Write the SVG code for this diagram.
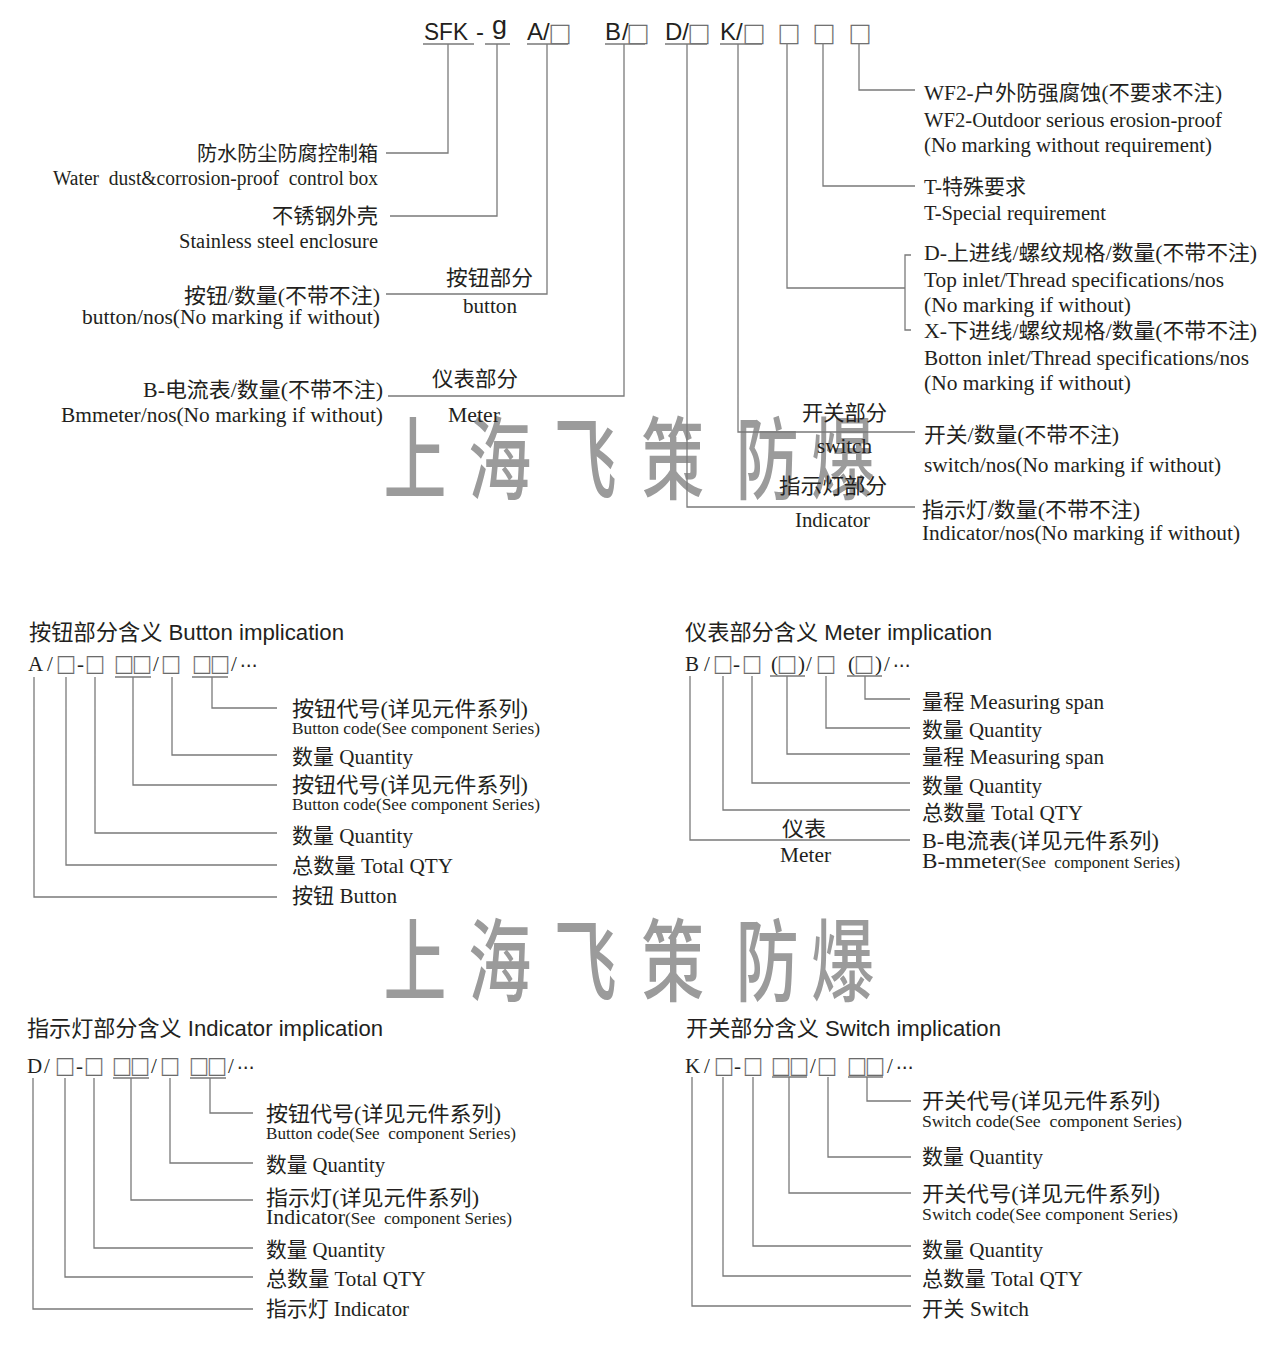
<svg xmlns="http://www.w3.org/2000/svg" width="1278" height="1350" viewBox="0 0 1278 1350">
<style>
.ln{stroke:#7a7a7a;stroke-width:1.3;fill:none}
.t{font-family:"Liberation Serif","Noto Sans CJK SC",serif;fill:#231f20}
.s{font-family:"Liberation Sans","Noto Sans CJK SC",sans-serif;fill:#231f20}
.bx{font-family:"Noto Sans CJK SC",sans-serif;fill:#666;stroke:#666;stroke-width:0.3;text-anchor:middle}
.el{font-family:"DejaVu Sans",sans-serif;fill:#231f20;stroke:#231f20;stroke-width:0.2}
.wm{font-family:"Noto Sans CJK SC",sans-serif;font-weight:500;fill:#9b9b9b;text-anchor:middle}
.pre{white-space:pre}
.e{text-anchor:end}
</style>
<rect width="1278" height="1350" fill="#fff"/>
<g id="watermarks">
<text class="wm" font-size="90" transform="scale(0.7,1)" x="593 714 836 961 1096 1204" y="492">上海飞策防爆</text>
<text class="wm" font-size="90" transform="scale(0.7,1)" x="593 714 836 961 1096 1204" y="994">上海飞策防爆</text>
</g>
<g id="model-code">
<text class="s" font-size="24" x="424" y="40" textLength="44" lengthAdjust="spacingAndGlyphs">SFK</text>
<text class="s" font-size="24" x="476" y="40">-</text>
<text class="s" font-size="26" x="492" y="34" textLength="15" lengthAdjust="spacingAndGlyphs">g</text>
<text class="s" font-size="24" x="527" y="40">A/</text>
<text class="s" font-size="24" x="605" y="40">B</text><text class="s" font-size="24" x="622" y="40">/</text>
<text class="s" font-size="24" x="665" y="40">D/</text>
<text class="s" font-size="24" x="720" y="40">K/</text>
<text class="bx" font-size="23" y="43"><tspan x="560">□</tspan><tspan x="638">□</tspan><tspan x="699">□</tspan><tspan x="754">□</tspan><tspan x="789">□</tspan><tspan x="824">□</tspan><tspan x="860">□</tspan></text>
</g>
<g id="connectors">
<path class="ln" d="M423,44H474M485,44H510M527,44H568M605,44H645M665,44H707M720,44H762"/>
<path class="ln" d="M448,44V153H386M497,44V216H390M547,44V294H386M624,44V396H388M687,44V507H915M738,44V432H915M787,43V288H905M911,255H905V330H911M823,43V186H915M859,43V90H915"/>
<path class="ln" d="M115,677H151M192,677H228M34,677V897H277M66,677V865H277M95,677V833H277M133,677V785H277M172,677V755H277M212,677V708H277"/>
<path class="ln" d="M770,676H805M847,676H882M690,676V840H910M723,676V810H910M752,676V783H910M787,676V754H910M826,676V728H910M865,676V699H910"/>
<path class="ln" d="M113,1078H149M190,1078H226M33,1078V1309H253M65,1078V1277H253M94,1078V1248H253M131,1078V1200H253M170,1078V1163H253M210,1078V1113H253"/>
<path class="ln" d="M772,1077H807M848,1077H883M692,1077V1306H911M723,1077V1276H911M753,1077V1246H911M789,1077V1193H911M828,1077V1157H911M867,1077V1101H911"/>
</g>
<g id="node-box">
<text class="t e" font-size="20" x="378" y="161" textLength="181" lengthAdjust="spacingAndGlyphs">防水防尘防腐控制箱</text>
<text class="t e pre" font-size="20" x="378" y="185" textLength="325" lengthAdjust="spacingAndGlyphs">Water  dust&amp;corrosion-proof  control box</text>
</g>
<g id="node-enclosure">
<text class="t e" font-size="21" x="378" y="223" textLength="106" lengthAdjust="spacingAndGlyphs">不锈钢外壳</text>
<text class="t e" font-size="20" x="378" y="248" textLength="199" lengthAdjust="spacingAndGlyphs">Stainless steel enclosure</text>
</g>
<g id="node-button">
<text class="t e" font-size="21" x="380" y="303" textLength="196" lengthAdjust="spacingAndGlyphs">按钮/数量(不带不注)</text>
<text class="t e" font-size="20" x="380" y="324" textLength="298" lengthAdjust="spacingAndGlyphs">button/nos(No marking if without)</text>
<text class="t" font-size="21" x="446" y="285" textLength="87" lengthAdjust="spacingAndGlyphs">按钮部分</text>
<text class="t" font-size="20" x="463" y="313" textLength="54" lengthAdjust="spacingAndGlyphs">button</text>
</g>
<g id="node-meter">
<text class="t e" font-size="21" x="383" y="397" textLength="240" lengthAdjust="spacingAndGlyphs">B-电流表/数量(不带不注)</text>
<text class="t e" font-size="20" x="383" y="422" textLength="322" lengthAdjust="spacingAndGlyphs">Bmmeter/nos(No marking if without)</text>
<text class="t" font-size="21" x="432" y="386" textLength="86" lengthAdjust="spacingAndGlyphs">仪表部分</text>
<text class="t" font-size="20" x="448" y="422" textLength="52" lengthAdjust="spacingAndGlyphs">Meter</text>
</g>
<g id="node-wf2">
<text class="t" font-size="21" x="924" y="100" textLength="298" lengthAdjust="spacingAndGlyphs">WF2-户外防强腐蚀(不要求不注)</text>
<text class="t" font-size="20" x="924" y="127" textLength="298" lengthAdjust="spacingAndGlyphs">WF2-Outdoor serious erosion-proof</text>
<text class="t" font-size="20" x="924" y="152" textLength="288" lengthAdjust="spacingAndGlyphs">(No marking without requirement)</text>
</g>
<g id="node-special">
<text class="t" font-size="21" x="924" y="194" textLength="102" lengthAdjust="spacingAndGlyphs">T-特殊要求</text>
<text class="t" font-size="20" x="924" y="220" textLength="182" lengthAdjust="spacingAndGlyphs">T-Special requirement</text>
</g>
<g id="node-inlet">
<text class="t" font-size="21" x="924" y="260" textLength="333" lengthAdjust="spacingAndGlyphs">D-上进线/螺纹规格/数量(不带不注)</text>
<text class="t" font-size="20" x="924" y="287" textLength="300" lengthAdjust="spacingAndGlyphs">Top inlet/Thread specifications/nos</text>
<text class="t" font-size="20" x="924" y="312" textLength="207" lengthAdjust="spacingAndGlyphs">(No marking if without)</text>
<text class="t" font-size="21" x="924" y="338" textLength="333" lengthAdjust="spacingAndGlyphs">X-下进线/螺纹规格/数量(不带不注)</text>
<text class="t" font-size="20" x="924" y="365" textLength="325" lengthAdjust="spacingAndGlyphs">Botton inlet/Thread specifications/nos</text>
<text class="t" font-size="20" x="924" y="390" textLength="207" lengthAdjust="spacingAndGlyphs">(No marking if without)</text>
</g>
<g id="node-switch">
<text class="t" font-size="21" x="802" y="420" textLength="85" lengthAdjust="spacingAndGlyphs">开关部分</text>
<text class="t" font-size="20" x="817" y="453" textLength="55" lengthAdjust="spacingAndGlyphs">switch</text>
<text class="t" font-size="21" x="924" y="442" textLength="195" lengthAdjust="spacingAndGlyphs">开关/数量(不带不注)</text>
<text class="t" font-size="20" x="924" y="472" textLength="297" lengthAdjust="spacingAndGlyphs">switch/nos(No marking if without)</text>
</g>
<g id="node-indicator">
<text class="t" font-size="21" x="779" y="493" textLength="108" lengthAdjust="spacingAndGlyphs">指示灯部分</text>
<text class="t" font-size="20" x="795" y="527" textLength="75" lengthAdjust="spacingAndGlyphs">Indicator</text>
<text class="t" font-size="21" x="922" y="517" textLength="218" lengthAdjust="spacingAndGlyphs">指示灯/数量(不带不注)</text>
<text class="t" font-size="20" x="922" y="540" textLength="318" lengthAdjust="spacingAndGlyphs">Indicator/nos(No marking if without)</text>
</g>
<g id="button-implication">
<text class="s" font-size="22" x="29" y="640" textLength="315" lengthAdjust="spacingAndGlyphs">按钮部分含义 Button implication</text>
<text class="t" font-size="21" y="671"><tspan x="28">A</tspan><tspan x="47">/</tspan><tspan x="77">-</tspan><tspan x="153">/</tspan><tspan x="231">/</tspan></text>
<text class="el" font-size="17" x="240" y="671">⋯</text>
<text class="bx" font-size="20" y="673"><tspan x="66">□</tspan><tspan x="95">□</tspan><tspan x="124">□</tspan><tspan x="142">□</tspan><tspan x="171">□</tspan><tspan x="202">□</tspan><tspan x="220">□</tspan></text>
<text class="t" font-size="21" x="292" y="716" textLength="236" lengthAdjust="spacingAndGlyphs">按钮代号(详见元件系列)</text>
<text class="t" font-size="17" x="292" y="734" textLength="248" lengthAdjust="spacingAndGlyphs">Button code(See component Series)</text>
<text class="t" font-size="21" x="292" y="764" textLength="121" lengthAdjust="spacingAndGlyphs">数量 Quantity</text>
<text class="t" font-size="21" x="292" y="792" textLength="236" lengthAdjust="spacingAndGlyphs">按钮代号(详见元件系列)</text>
<text class="t" font-size="17" x="292" y="810" textLength="248" lengthAdjust="spacingAndGlyphs">Button code(See component Series)</text>
<text class="t" font-size="21" x="292" y="843" textLength="121" lengthAdjust="spacingAndGlyphs">数量 Quantity</text>
<text class="t" font-size="21" x="292" y="873" textLength="161" lengthAdjust="spacingAndGlyphs">总数量 Total QTY</text>
<text class="t" font-size="21" x="292" y="903" textLength="105" lengthAdjust="spacingAndGlyphs">按钮 Button</text>
</g>
<g id="meter-implication">
<text class="s" font-size="22" x="685" y="640" textLength="307" lengthAdjust="spacingAndGlyphs">仪表部分含义 Meter implication</text>
<text class="t" font-size="21" y="671"><tspan x="685">B</tspan><tspan x="704">/</tspan><tspan x="733">-</tspan><tspan x="771">(</tspan><tspan x="798">)</tspan><tspan x="806">/</tspan><tspan x="848">(</tspan><tspan x="875">)</tspan><tspan x="884">/</tspan></text>
<text class="el" font-size="17" x="893" y="671">⋯</text>
<text class="bx" font-size="20" y="673"><tspan x="723">□</tspan><tspan x="752">□</tspan><tspan x="787">□</tspan><tspan x="826">□</tspan><tspan x="864">□</tspan></text>
<text class="t" font-size="21" x="922" y="709" textLength="182" lengthAdjust="spacingAndGlyphs">量程 Measuring span</text>
<text class="t" font-size="21" x="922" y="737" textLength="120" lengthAdjust="spacingAndGlyphs">数量 Quantity</text>
<text class="t" font-size="21" x="922" y="764" textLength="182" lengthAdjust="spacingAndGlyphs">量程 Measuring span</text>
<text class="t" font-size="21" x="922" y="793" textLength="120" lengthAdjust="spacingAndGlyphs">数量 Quantity</text>
<text class="t" font-size="21" x="922" y="820" textLength="161" lengthAdjust="spacingAndGlyphs">总数量 Total QTY</text>
<text class="t" font-size="21" x="922" y="848" textLength="237" lengthAdjust="spacingAndGlyphs">B-电流表(详见元件系列)</text>
<text class="t pre" y="868"><tspan x="922" font-size="20" textLength="94" lengthAdjust="spacingAndGlyphs">B-mmeter</tspan><tspan x="1016" font-size="17" textLength="164" lengthAdjust="spacingAndGlyphs">(See  component Series)</tspan></text>
<text class="t" font-size="21" x="782" y="836" textLength="44" lengthAdjust="spacingAndGlyphs">仪表</text>
<text class="t" font-size="20" x="780" y="862" textLength="51" lengthAdjust="spacingAndGlyphs">Meter</text>
</g>
<g id="indicator-implication">
<text class="s" font-size="22" x="27" y="1036" textLength="356" lengthAdjust="spacingAndGlyphs">指示灯部分含义 Indicator implication</text>
<text class="t" font-size="21" y="1073"><tspan x="27">D</tspan><tspan x="44">/</tspan><tspan x="76">-</tspan><tspan x="151">/</tspan><tspan x="228">/</tspan></text>
<text class="el" font-size="17" x="237" y="1073">⋯</text>
<text class="bx" font-size="20" y="1075"><tspan x="65">□</tspan><tspan x="94">□</tspan><tspan x="122">□</tspan><tspan x="140">□</tspan><tspan x="170">□</tspan><tspan x="199">□</tspan><tspan x="217">□</tspan></text>
<text class="t" font-size="21" x="266" y="1121" textLength="235" lengthAdjust="spacingAndGlyphs">按钮代号(详见元件系列)</text>
<text class="t pre" font-size="17" x="266" y="1139" textLength="250" lengthAdjust="spacingAndGlyphs">Button code(See  component Series)</text>
<text class="t" font-size="21" x="266" y="1172" textLength="119" lengthAdjust="spacingAndGlyphs">数量 Quantity</text>
<text class="t" font-size="21" x="266" y="1205" textLength="213" lengthAdjust="spacingAndGlyphs">指示灯(详见元件系列)</text>
<text class="t pre" y="1224"><tspan x="266" font-size="21" textLength="79" lengthAdjust="spacingAndGlyphs">Indicator</tspan><tspan x="345" font-size="17" textLength="167" lengthAdjust="spacingAndGlyphs">(See  component Series)</tspan></text>
<text class="t" font-size="21" x="266" y="1257" textLength="119" lengthAdjust="spacingAndGlyphs">数量 Quantity</text>
<text class="t" font-size="21" x="266" y="1286" textLength="160" lengthAdjust="spacingAndGlyphs">总数量 Total QTY</text>
<text class="t" font-size="21" x="266" y="1316" textLength="143" lengthAdjust="spacingAndGlyphs">指示灯 Indicator</text>
</g>
<g id="switch-implication">
<text class="s" font-size="22" x="686" y="1036" textLength="315" lengthAdjust="spacingAndGlyphs">开关部分含义 Switch implication</text>
<text class="t" font-size="21" y="1073"><tspan x="685">K</tspan><tspan x="704">/</tspan><tspan x="734">-</tspan><tspan x="810">/</tspan><tspan x="887">/</tspan></text>
<text class="el" font-size="17" x="896" y="1073">⋯</text>
<text class="bx" font-size="20" y="1075"><tspan x="724">□</tspan><tspan x="753">□</tspan><tspan x="781">□</tspan><tspan x="799">□</tspan><tspan x="827">□</tspan><tspan x="857">□</tspan><tspan x="875">□</tspan></text>
<text class="t" font-size="21" x="922" y="1108" textLength="238" lengthAdjust="spacingAndGlyphs">开关代号(详见元件系列)</text>
<text class="t pre" font-size="17" x="922" y="1127" textLength="260" lengthAdjust="spacingAndGlyphs">Switch code(See  component Series)</text>
<text class="t" font-size="21" x="922" y="1164" textLength="121" lengthAdjust="spacingAndGlyphs">数量 Quantity</text>
<text class="t" font-size="21" x="922" y="1201" textLength="238" lengthAdjust="spacingAndGlyphs">开关代号(详见元件系列)</text>
<text class="t" font-size="17" x="922" y="1220" textLength="256" lengthAdjust="spacingAndGlyphs">Switch code(See component Series)</text>
<text class="t" font-size="21" x="922" y="1257" textLength="121" lengthAdjust="spacingAndGlyphs">数量 Quantity</text>
<text class="t" font-size="21" x="922" y="1286" textLength="161" lengthAdjust="spacingAndGlyphs">总数量 Total QTY</text>
<text class="t" font-size="21" x="922" y="1316" textLength="107" lengthAdjust="spacingAndGlyphs">开关 Switch</text>
</g>
</svg>
